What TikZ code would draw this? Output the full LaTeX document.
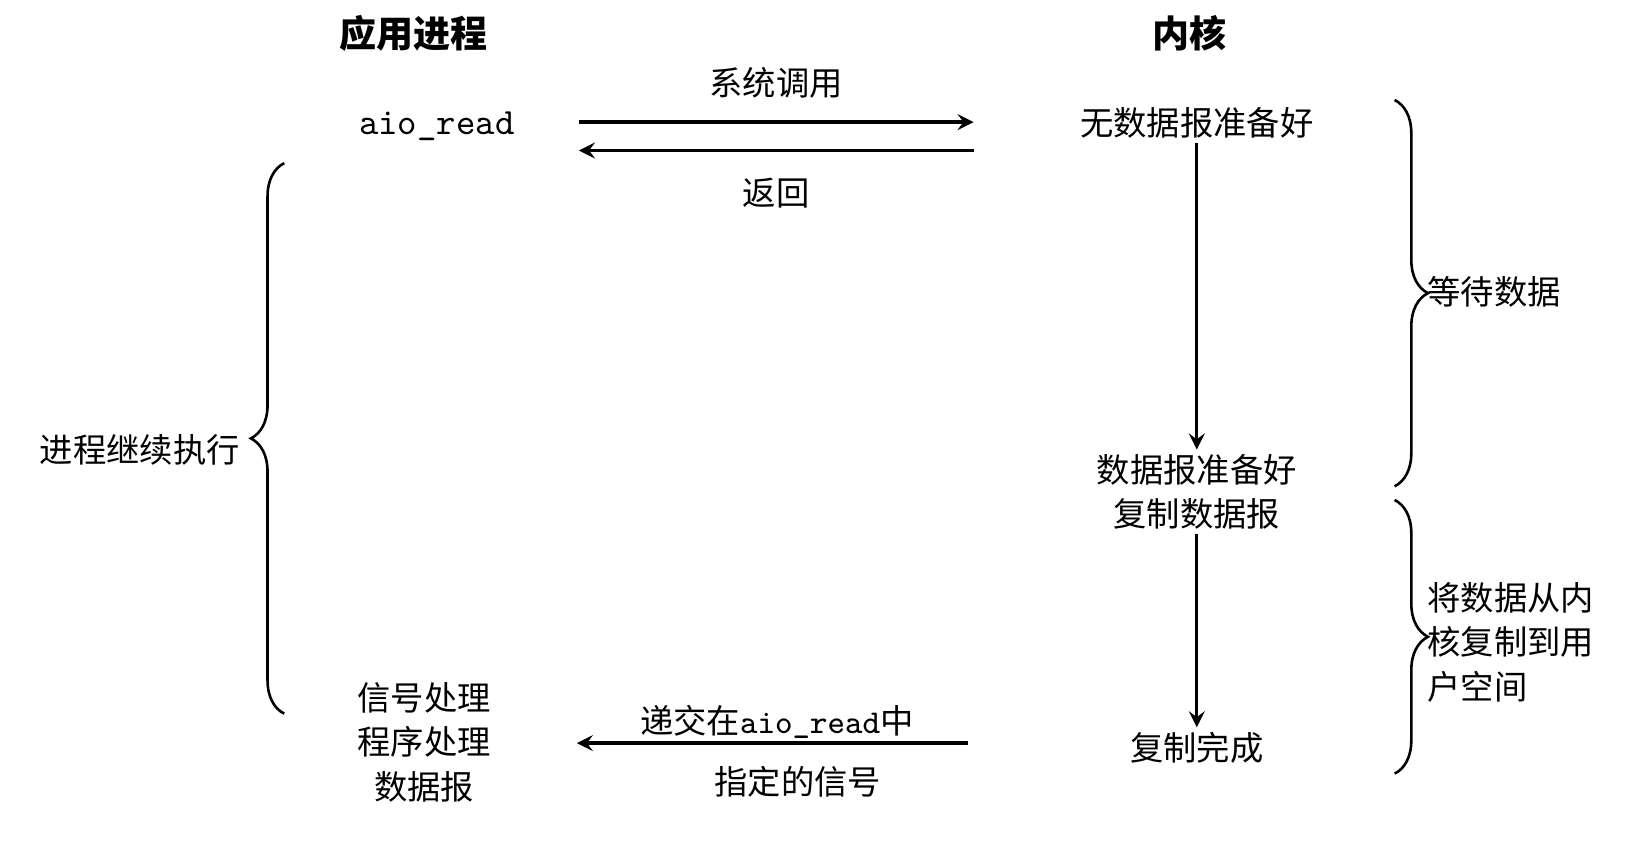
\documentclass[tikz,border=0pt]{standalone}
\usepackage{fontspec}
\setmainfont{Noto Sans CJK SC}
\usetikzlibrary{decorations.pathreplacing}
\tikzset{
  lbl/.style={font=\fontsize{9}{12}\selectfont, align=center, inner sep=1pt},
  msg/.style={-stealth, line width=0.9pt},
  brc/.style={decorate, decoration={brace, amplitude=9pt}, line width=0.7pt}
}
\begin{document}
\begin{tikzpicture}[x=0.01cm, y=-0.01cm]
        \useasboundingbox (0,0) rectangle (1560,800);
        % columns
        \node[lbl, font=\fontsize{10}{12}\selectfont\bfseries] (app) at (393,32) {应用进程};
        \node[lbl, font=\fontsize{10}{12}\selectfont\bfseries] (kern) at (1130,32) {内核};
        \node[lbl, font=\fontsize{10}{12}\ttfamily] (aio) at (415,120) {aio\_read};
        \node[lbl] (nodata) at (1137,117) {无数据报准备好};
        \node[lbl] (ready) at (1137,467) {数据报准备好\\复制数据报};
        \node[lbl] (done) at (1137,710) {复制完成};
        \node[lbl] (sig) at (403,705) {信号处理\\程序处理\\数据报};
        % calls
        \coordinate (c1) at (550,116);
        \coordinate (c2) at (925,116);
        \coordinate (r1) at (925,143);
        \coordinate (r2) at (550,143);
        \draw[msg] (c1) -- node[lbl, above=5pt] {系统调用} (c2);
        \draw[msg] (r1) -- node[lbl, below=6pt] {返回} (r2);
        \draw[msg] (nodata) -- (ready);
        \draw[msg] (ready) -- (done);
        \coordinate (s1) at (920,706);
        \coordinate (s2) at (548,706);
        \draw[msg] (s1) -- (s2);
        \node[lbl] (deliver) at (738,686) {递交在{\ttfamily aio\_read}中};
        \node[lbl] (signo) at (758,743) {指定的信号};
        % braces
        \coordinate (w1) at (1325,95);
        \coordinate (w2) at (1325,462);
        \coordinate (k1) at (1325,475);
        \coordinate (k2) at (1325,735);
        \coordinate (p1) at (270,155);
        \coordinate (p2) at (270,678);
        \draw[brc] (w1) -- (w2);
        \draw[brc] (k1) -- (k2);
        \draw[brc] (p2) -- (p1);
        \node[lbl, anchor=west] (wait) at (1352,277) {等待数据};
        \node[lbl, anchor=west, align=left] (copy) at (1352,610) {将数据从内\\核复制到用\\户空间};
        \node[lbl, anchor=east] (cont) at (232,427) {进程继续执行};
\end{tikzpicture}
\end{document}
